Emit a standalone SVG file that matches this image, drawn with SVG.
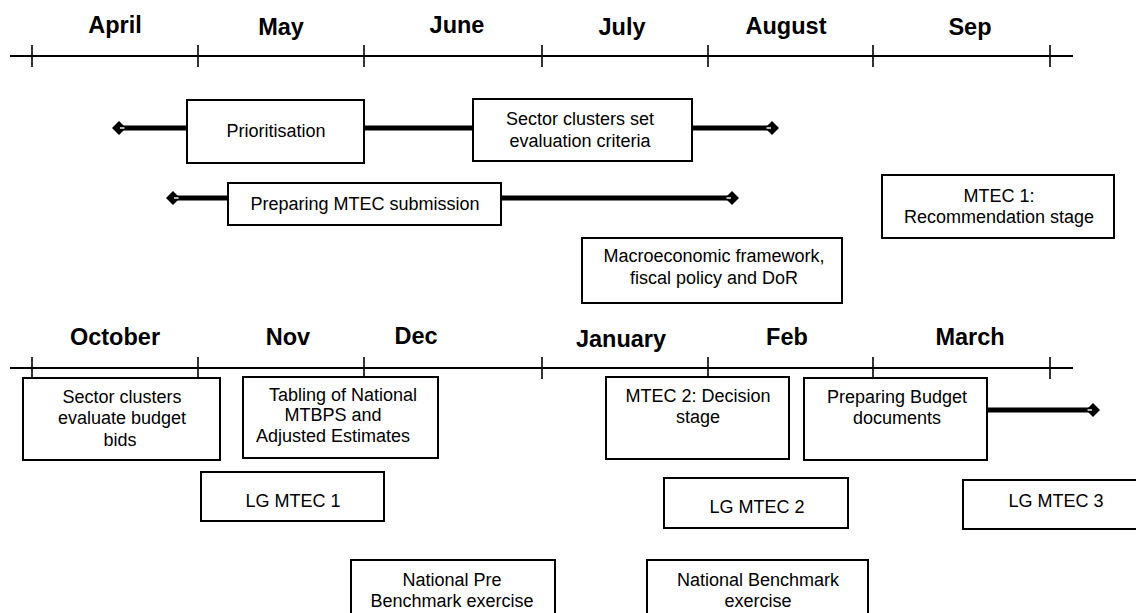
<svg xmlns="http://www.w3.org/2000/svg" width="1136" height="613" viewBox="0 0 1136 613">
<style>
.axis{stroke:#000;stroke-width:1.8;fill:none}
.tick{stroke:#000;stroke-width:1.6}
.month{font-family:"Liberation Sans",Arial,sans-serif;font-weight:bold;font-size:23.5px;text-anchor:middle;fill:#000}
.box{fill:#fff;stroke:#000;stroke-width:2}
.lbl{font-family:"Liberation Sans",Arial,sans-serif;font-size:18px;text-anchor:middle;fill:#000}
.conn{stroke:#000;stroke-width:4.8;fill:none}
.cs{marker-start:url(#dia)}
.ce{marker-end:url(#dia)}
</style>
<defs>
<marker id="dia" markerUnits="userSpaceOnUse" markerWidth="18" markerHeight="18" viewBox="-9 -9 18 18" refX="0" refY="0" orient="auto-start-reverse">
<path d="M-7,0 L0,-7 L7,0 L0,7 Z" fill="#000"/>
<path d="M-5.5,0 H-1" stroke="#fff" stroke-width="1.4"/>
</marker>
</defs>
<rect width="1136" height="613" fill="#fff"/>

<g id="timeline-top">
<line class="axis" x1="10" y1="56" x2="1073" y2="56"/>
<g class="tick">
<line x1="32" y1="45" x2="32" y2="67"/>
<line x1="198" y1="45" x2="198" y2="67"/>
<line x1="364" y1="45" x2="364" y2="67"/>
<line x1="542" y1="45" x2="542" y2="67"/>
<line x1="708" y1="45" x2="708" y2="67"/>
<line x1="873" y1="45" x2="873" y2="67"/>
<line x1="1050" y1="45" x2="1050" y2="67"/>
</g>
<text class="month" x="115" y="33">April</text>
<text class="month" x="281" y="35">May</text>
<text class="month" x="457" y="33">June</text>
<text class="month" x="622" y="35">July</text>
<text class="month" x="786" y="34">August</text>
<text class="month" x="970" y="35">Sep</text>
</g>

<g id="timeline-bottom">
<line class="axis" x1="10" y1="368" x2="1073" y2="368"/>
<g class="tick">
<line x1="32" y1="357" x2="32" y2="379"/>
<line x1="198" y1="357" x2="198" y2="379"/>
<line x1="364" y1="357" x2="364" y2="379"/>
<line x1="542" y1="357" x2="542" y2="379"/>
<line x1="708" y1="357" x2="708" y2="379"/>
<line x1="873" y1="357" x2="873" y2="379"/>
<line x1="1050" y1="357" x2="1050" y2="379"/>
</g>
<text class="month" x="115" y="345">October</text>
<text class="month" x="288" y="345">Nov</text>
<text class="month" x="416" y="344">Dec</text>
<text class="month" x="621" y="347">January</text>
<text class="month" x="787" y="345">Feb</text>
<text class="month" x="970" y="345">March</text>
</g>

<g id="connectors">
<line class="conn cs" x1="119" y1="128" x2="187" y2="128"/>
<line class="conn" x1="364" y1="128" x2="473" y2="128"/>
<line class="conn ce" x1="692" y1="128" x2="772" y2="128"/>
<line class="conn cs" x1="173" y1="198" x2="228" y2="198"/>
<line class="conn ce" x1="501" y1="198" x2="732" y2="198"/>
<line class="conn ce" x1="987" y1="410" x2="1093" y2="410"/>
</g>

<g id="prioritisation">
<rect class="box" x="187" y="100" width="177" height="63"/>
<text class="lbl" x="276" y="137">Prioritisation</text>
</g>
<g id="sector-criteria">
<rect class="box" x="473" y="99" width="219" height="62"/>
<text class="lbl" x="580" y="125">Sector clusters set</text>
<text class="lbl" x="580" y="147">evaluation criteria</text>
</g>
<g id="preparing-mtec">
<rect class="box" x="228" y="183" width="273" height="42"/>
<text class="lbl" x="365" y="210">Preparing MTEC submission</text>
</g>
<g id="mtec1">
<rect class="box" x="882" y="175" width="232" height="63"/>
<text class="lbl" x="999" y="202">MTEC 1:</text>
<text class="lbl" x="999" y="223">Recommendation stage</text>
</g>
<g id="macro">
<rect class="box" x="582" y="238" width="260" height="65"/>
<text class="lbl" x="714" y="262">Macroeconomic framework,</text>
<text class="lbl" x="714" y="284">fiscal policy and DoR</text>
</g>

<g id="sector-evaluate">
<rect class="box" x="23" y="378" width="197" height="82"/>
<text class="lbl" x="122" y="403">Sector clusters</text>
<text class="lbl" x="122" y="424">evaluate budget</text>
<text class="lbl" x="120" y="446">bids</text>
</g>
<g id="tabling">
<rect class="box" x="243" y="377" width="195" height="81"/>
<text class="lbl" x="343" y="401">Tabling of National</text>
<text class="lbl" x="333" y="421">MTBPS and</text>
<text class="lbl" x="333" y="442">Adjusted Estimates</text>
</g>
<g id="lg-mtec1">
<rect class="box" x="201" y="472" width="183" height="49"/>
<text class="lbl" x="293" y="507">LG MTEC 1</text>
</g>
<g id="national-pre">
<rect class="box" x="351" y="560" width="204" height="60"/>
<text class="lbl" x="452" y="586">National Pre</text>
<text class="lbl" x="452" y="607">Benchmark exercise</text>
</g>
<g id="mtec2">
<rect class="box" x="606" y="377" width="183" height="82"/>
<text class="lbl" x="698" y="402">MTEC 2: Decision</text>
<text class="lbl" x="698" y="423">stage</text>
</g>
<g id="preparing-budget">
<rect class="box" x="804" y="378" width="183" height="82"/>
<text class="lbl" x="897" y="403">Preparing Budget</text>
<text class="lbl" x="897" y="424">documents</text>
</g>
<g id="lg-mtec2">
<rect class="box" x="664" y="478" width="184" height="50"/>
<text class="lbl" x="757" y="513">LG MTEC 2</text>
</g>
<g id="national-benchmark">
<rect class="box" x="647" y="560" width="221" height="60"/>
<text class="lbl" x="758" y="586">National Benchmark</text>
<text class="lbl" x="758" y="607">exercise</text>
</g>
<g id="lg-mtec3">
<rect class="box" x="963" y="480" width="190" height="49"/>
<text class="lbl" x="1056" y="507">LG MTEC 3</text>
</g>
</svg>
